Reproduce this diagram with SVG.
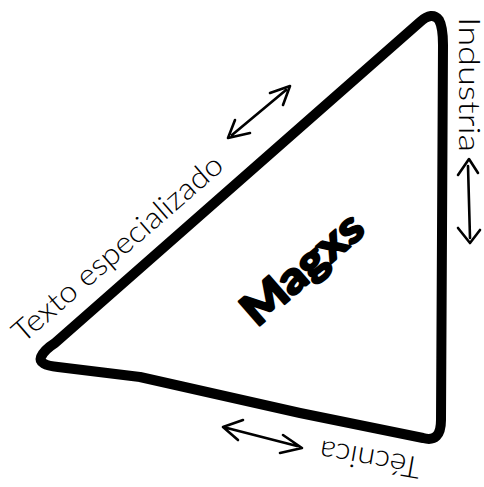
<svg xmlns="http://www.w3.org/2000/svg" width="484" height="487" viewBox="0 0 484 487">
<style>
.thin{font-family:"Lato","Liberation Sans",sans-serif;font-weight:300;font-size:30px;fill:#000}
.big{font-family:"Lato","Liberation Sans",sans-serif;font-weight:900;font-size:44px;fill:#000;stroke:#000;stroke-width:2.2;stroke-linejoin:round}
.arr{fill:none;stroke:#000;stroke-width:2.6;stroke-linecap:round;stroke-linejoin:round}
</style>
<rect width="484" height="487" fill="#fff"/>
<g id="triangle">
<path d="M 55 343 L 420 22 Q 432 11 439 20 Q 443 27 443 45 L 441 420 Q 441 443 423 438 L 300 413 L 140 377 L 58 367 Q 38 365 41 357 Q 44 350 55 343 Z" fill="none" stroke="#000" stroke-width="10" stroke-linejoin="round"/>
</g>
<g id="label-magxs"><text class="big" x="257" y="328" transform="rotate(-41 257 328)" textLength="146" lengthAdjust="spacingAndGlyphs">Magxs</text></g>
<g id="label-texto"><text class="thin" x="23" y="344" transform="rotate(-41 23 344)" textLength="268" lengthAdjust="spacingAndGlyphs">Texto especializado</text></g>
<g id="label-industria"><text class="thin" x="459" y="17" transform="rotate(90 459 17)" textLength="135" lengthAdjust="spacingAndGlyphs">Industria</text></g>
<g id="label-tecnica"><text class="thin" x="422" y="458" transform="rotate(190 422 458)" textLength="102" lengthAdjust="spacingAndGlyphs">Técnica</text></g>
<g id="connectors">
<path class="arr" d="M 270 93 L 290 86 L 283 105 M 286 90 L 232 135 M 235 120 L 228 138 L 250 133"/>
<path class="arr" d="M 458 175 L 469 159 L 478 173 M 468 166 L 470 238 M 458 228 L 470 243 L 480 230"/>
<path class="arr" d="M 243 420 L 223 427 L 238 440 M 227 428 L 297 446 M 283 435 L 302 448 L 280 453"/>
</g>
</svg>
